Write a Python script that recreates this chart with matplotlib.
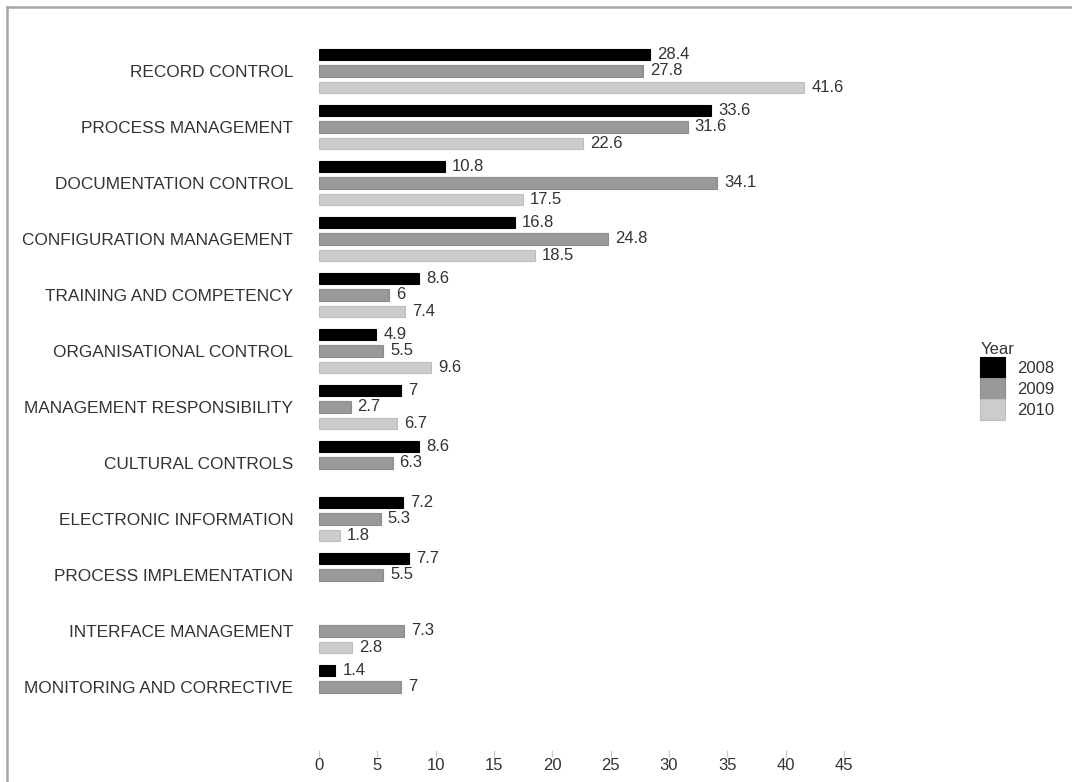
# Grouped horizontal bars: counts per control area, 2008-2010

import matplotlib.pyplot as plt
import numpy as np
from matplotlib.lines import Line2D

plt.rcParams['font.family'] = ['Liberation Sans', 'DejaVu Sans']

categories = ['RECORD CONTROL', 'PROCESS MANAGEMENT', 'DOCUMENTATION CONTROL',
              'CONFIGURATION MANAGEMENT', 'TRAINING AND COMPETENCY',
              'ORGANISATIONAL CONTROL', 'MANAGEMENT RESPONSIBILITY',
              'CULTURAL CONTROLS', 'ELECTRONIC INFORMATION',
              'PROCESS IMPLEMENTATION', 'INTERFACE MANAGEMENT',
              'MONITORING AND CORRECTIVE']
years = ['2008', '2009', '2010']
nan = np.nan
vals_2008 = [28.4, 33.6, 10.8, 16.8, 8.6, 4.9, 7, 8.6, 7.2, 7.7, nan, 1.4]
vals_2009 = [27.8, 31.6, 34.1, 24.8, 6, 5.5, 2.7, 6.3, 5.3, 5.5, 7.3, 7]
vals_2010 = [41.6, 22.6, 17.5, 18.5, 7.4, 9.6, 6.7, nan, 1.8, nan, 2.8, nan]
xticks = [0, 5, 10, 15, 20, 25, 30, 35, 40, 45]

colors = ['#000000', '#999999', '#cccccc']
edges = ['#000000', '#8c8c8c', '#bdbdbd']
txt = '#333333'

W, H = 1072, 782
fig = plt.figure(figsize=(W / 100, H / 100), dpi=100)
ax = fig.add_axes([319 / W, 1 - 750 / H, 525 / W, 720 / H])

y = np.arange(len(categories))
offset = 0.3
height = 0.2
series = [vals_2008, vals_2009, vals_2010]
for k, vals in enumerate(series):
    v = np.array(vals, dtype=float)
    pos = y + (k - 1) * offset
    ax.barh(pos, v, height=height, color=colors[k], edgecolor=edges[k],
            linewidth=0.8, label=years[k])
    for p, val in zip(pos, v):
        if np.isnan(val):
            continue
        lab = ('%g' % val)
        ax.text(val + 0.6, p, lab, va='center', ha='left', fontsize=12,
                color=txt, clip_on=False)

ax.set_xlim(0, 45)
ax.set_ylim(12.125, -0.732)
ax.set_xticks(xticks)
ax.set_xticklabels([str(t) for t in xticks], fontsize=12, color=txt)
ax.set_yticks(y)
ax.set_yticklabels(categories, fontsize=12.4, color=txt)
ax.tick_params(axis='y', length=0, pad=18.5)
ax.tick_params(axis='x', direction='out', length=5, width=0.8,
               color='#c8c8c8', pad=0.5)
for s in ax.spines.values():
    s.set_visible(False)

handles, labels = ax.get_legend_handles_labels()
leg = fig.legend(handles, labels, title='Year', loc='upper left',
                 bbox_to_anchor=(972 / W, 1 - 334 / H), frameon=False,
                 fontsize=12, title_fontsize=12, labelspacing=0,
                 handlelength=1.45, handleheight=1.56, handletextpad=0.75,
                 borderpad=0, alignment='left')
for t in leg.get_texts():
    t.set_color(txt)
leg.get_title().set_color(txt)

# frame line on the top and left edges
fig.add_artist(Line2D([7 / W, 1], [1 - 7 / H, 1 - 7 / H], transform=fig.transFigure,
                      color='#a6a6a6', linewidth=1.8))
fig.add_artist(Line2D([7 / W, 7 / W], [0, 1 - 7 / H], transform=fig.transFigure,
                      color='#a6a6a6', linewidth=1.8))

plt.savefig('out.png', dpi=100)
